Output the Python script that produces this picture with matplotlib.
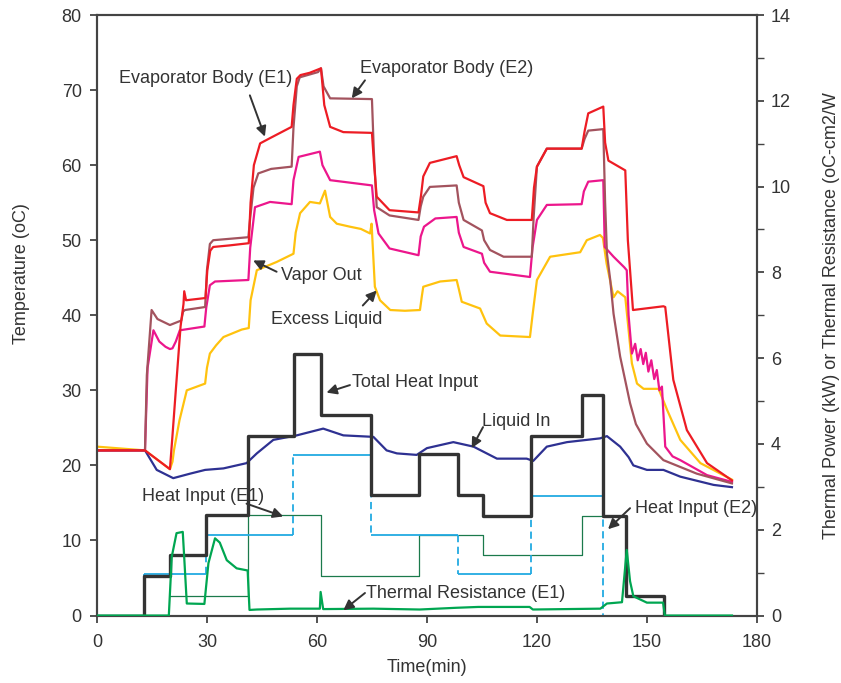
import matplotlib.pyplot as plt
import numpy as np

plt.rcParams['font.family'] = ['Liberation Sans', 'DejaVu Sans']

# ---- temperature curves (time in min, temperature in oC) ----
e1_t = [0, 13.1, 19.9, 20.6, 21.5, 22.8, 23.6, 23.8, 24.3, 29.6, 30.1, 30.9, 31.7, 36, 41.4,
        41.9, 42.8, 44.5, 47.2, 53.1, 53.6, 54.5, 55.5, 58, 61.1, 62.0, 63.6, 67.2, 75.0,
        75.6, 76.3, 79.8, 87.7, 88.4, 89.0, 90.8, 98.1, 98.8, 100.0, 105.4, 106.0, 107.2,
        111.8, 118.6, 119.2, 120, 122.7, 132.2, 133, 134, 138.1, 138.6, 139.5, 144.1, 144.8,
        146.2, 154.5, 155, 157.2, 160.9, 166.4, 173.2]
e1_T = [22, 22, 19.5, 24, 30, 38.5, 41.5, 43.2, 42.0, 42.3, 46, 48.6, 49.1, 49.3, 49.6,
        55, 60, 62.9, 63.6, 65.1, 68, 71.5, 72, 72.3, 72.9, 68, 65.1, 64.4, 64.3,
        60, 55.8, 54, 53.7, 56, 58.5, 60.3, 61.2, 60, 58.4, 57.2, 55, 53.6,
        52.7, 52.7, 57, 59.8, 62.2, 62.2, 64.5, 66.9, 67.8, 63, 60.6, 59.3, 50,
        40.7, 41.2, 41.1, 31.4, 24.7, 20.3, 18.0]

e2_t = [0, 13.1, 13.6, 14.9, 16.5, 19.9, 23.0, 23.5, 24.0, 29.5, 30.0, 30.8, 31.7, 41.3,
        41.8, 42.7, 44.0, 47.5, 53.1, 53.6, 54.5, 55.3, 60.3, 61.1, 61.8, 63.6, 75.0, 75.5,
        76.3, 79.8, 87.7, 88.3, 89.0, 90.8, 98.1, 98.7, 100.0, 105.0, 105.6, 107.2, 110.9,
        118.6, 119.1, 120.0, 122.7, 132.2, 133, 134, 138.1, 138.6, 139.1, 140.0, 140.9,
        142.7, 145.4, 147, 150, 154.5, 163.6, 173.2]
e2_T = [22, 22, 32, 40.7, 39.5, 38.7, 39.3, 40.5, 40.7, 41.1, 46, 49.5, 50, 50.4,
        53, 57, 58.9, 59.5, 59.8, 65, 70.5, 71.7, 72.4, 72.9, 70.5, 68.9, 68.8, 62,
        54.4, 53.3, 52.7, 54.5, 55.8, 57.1, 57.3, 55, 52.7, 51.3, 50, 48.7, 47.8,
        47.8, 53, 59.8, 62.2, 62.2, 63.5, 64.6, 64.8, 55, 48.2, 44.7, 40.2,
        34.5, 28.3, 25.5, 22.9, 20.7, 18.9, 17.6]

vap_t = [0, 13.1, 13.8, 15.4, 17, 18.7, 19.9, 20.6, 21.5, 22.6, 29.3, 29.8, 30.8, 32.2,
         41.3, 41.8, 43.1, 47.2, 53.1, 53.6, 55.0, 60.8, 61.5, 63.6, 75.0, 75.6, 76.8,
         79.8, 87.7, 88.3, 89.2, 92.3, 98.1, 98.7, 100, 105, 105.6, 107.2, 118.1, 118.8,
         120, 122.7, 132.2, 132.8, 134, 138.1, 138.5, 140.9, 143.8, 144.5, 145.0, 145.9,
         146.8, 147.5, 148.3, 149, 149.7, 150.4, 151.2, 152, 152.7, 153.4, 154.1, 154.6,
         155, 157, 159.1, 166.4, 173.2]
vap_T = [22, 22, 33, 38.0, 36.5, 35.8, 35.5, 35.6, 36.5, 38.0, 38.5, 41, 44, 44.5,
         44.7, 49, 54.4, 55.1, 54.8, 58, 61.1, 61.8, 60, 58.0, 57.3, 54, 50.9,
         48.9, 48, 50.5, 51.8, 52.9, 53.1, 51, 49.1, 48.2, 47, 45.8, 45.1, 49,
         52.7, 54.7, 54.8, 56.5, 57.8, 58.0, 49.1, 47.8, 46.4, 46, 40, 34.9,
         36.2, 34, 35.5, 33.5, 35, 32.5, 34, 31.5, 32.7, 30, 30.5, 26,
         22.5, 21.2, 20.7, 18.7, 17.8]

liq_t = [0, 13.1, 19.9, 20.6, 21.0, 22.5, 24.5, 29.5, 30.0, 30.8, 32.5, 34.5, 39.5, 41.4,
         41.9, 43.6, 49, 53.6, 54.2, 55.4, 58.1, 60.8, 62.2, 63.6, 65.4, 69, 72, 74.5,
         74.9, 75.8, 77.2, 80, 84, 88.1, 88.6, 89.0, 93.6, 98.1, 98.7, 99.5, 104.5, 106.3,
         110, 118.1, 118.8, 120, 123.6, 131.8, 133.6, 137.2, 138, 139, 140.9, 142, 144.1,
         144.6, 145.9, 147.3, 149.1, 153.2, 155.5, 159.1, 164.6, 173.2]
liq_T = [22.5, 22, 19.5, 20.5, 22, 26, 30.0, 30.9, 33, 34.9, 36, 37.1, 38.1, 38.3,
         42, 46.0, 47.1, 48.2, 51, 53.6, 55.1, 54.9, 56.6, 53.1, 52.2, 51.8, 51.5, 50.9,
         52.2, 43.8, 42.0, 40.7, 40.6, 40.7, 42.5, 43.8, 44.5, 44.7, 43.5, 41.8, 40.9, 38.9,
         37.3, 37.1, 40, 44.7, 47.8, 48.4, 50.0, 50.7, 50.3, 46.9, 42.4, 43.2, 42.4,
         40, 33.6, 30.9, 30.2, 30.2, 27.4, 23.4, 20.3, 18.1]

in_t = [0, 13.1, 16.3, 20.8, 25.4, 29.5, 34.5, 40.8, 43.6, 48.1, 54.5, 61.7, 67.2, 75.4,
        79, 81.8, 87.2, 90, 97.2, 102.7, 109.1, 117.2, 119, 122.7, 128.2, 137.2, 139.1,
        142.7, 145, 146.3, 150, 154.5, 159.1, 168.2, 173.2]
in_T = [22, 22, 19.4, 18.3, 18.9, 19.4, 19.6, 20.3, 21.6, 23.4, 24.0, 24.9, 24.0, 23.8,
        22.0, 21.6, 21.4, 22.3, 23.1, 22.5, 20.9, 20.9, 20.6, 22.5, 23.1, 23.6, 23.9,
        22.5, 21.1, 20.0, 19.4, 19.4, 18.5, 17.4, 17.1]

# ---- power steps (kW) and thermal resistance, right axis ----
tot_t = [0, 12.9, 19.9, 29.7, 41.3, 53.7, 61.1, 74.7, 87.9, 98.4, 105.3, 118.5, 132.2,
         137.9, 144.2, 154.6]
tot_p = [0, 0.93, 1.42, 2.35, 4.18, 6.1, 4.67, 2.8, 3.76, 2.8, 2.32, 4.18, 5.14, 2.32, 0.45, 0]

h1_t = [19.9, 41.3, 61.1, 87.9, 105.3, 132.2, 144.2, 154.6]
h1_p = [0.45, 2.34, 0.93, 1.885, 1.42, 2.32, 0.45, 0]

h2_t = [0, 12.9, 29.7, 53.5, 74.7, 98.4, 118.5, 137.9, 154.6]
h2_p = [0, 0.97, 1.885, 3.74, 1.885, 0.97, 2.79, 0]

tr_t = [0, 19.6, 20.4, 21.7, 23.4, 23.9, 24.5, 29.3, 30.4, 32.2, 33.5, 35.4, 38.1, 41.1,
        41.6, 43.6, 52.7, 60.8, 61.0, 61.7, 75.4, 88, 97.9, 104, 118, 118.9, 137.3, 139.1,
        143.2, 144.5, 145.4, 146.3, 150, 154.4, 154.9, 173.2]
tr_r = [0, 0, 1.37, 1.92, 1.95, 1.2, 0.28, 0.27, 1.22, 1.8, 1.7, 1.29, 1.1, 1.05,
        0.13, 0.14, 0.16, 0.16, 0.55, 0.15, 0.16, 0.14, 0.18, 0.2, 0.2, 0.14, 0.16, 0.28,
        0.31, 1.53, 0.8, 0.45, 0.3, 0.3, 0, 0]

fig = plt.figure(figsize=(8.41, 6.83), dpi=100)
ax = fig.add_axes([0.1153, 0.0988, 0.7847, 0.8792])
ax2 = ax.twinx()

ax.plot(liq_t, liq_T, color='#ffc20e', lw=1.6)
ax.plot(in_t, in_T, color='#2e3192', lw=1.6)
ax.plot(vap_t, vap_T, color='#ec168c', lw=1.6)
ax.plot(e2_t, e2_T, color='#a3535e', lw=1.6)
ax.plot(e1_t, e1_T, color='#ed1c24', lw=1.6)

ax2.plot(tr_t, tr_r, color='#00a651', lw=1.6, zorder=3)
ax2.step(h1_t + [154.6], h1_p + [0], where='post', color='#1b7a4c', lw=0.9, zorder=2)
# Heat input E2: solid levels, dashed risers
ax2.hlines(h2_p, h2_t[:-1], h2_t[1:], color='#22aae2', lw=1.3, zorder=2)
ax2.vlines(h2_t[1:-1], h2_p[:-1], h2_p[1:], color='#22aae2', lw=1.3,
           linestyles=(0, (4, 2.5)), zorder=2)
ax2.step(tot_t + [154.6], tot_p + [0], where='post', color='#333333', lw=2.4, zorder=2.5)

ax.set_xlim(0, 180)
ax.set_ylim(0, 80)
ax2.set_ylim(0, 14)
ax.set_xticks(np.arange(0, 181, 30))
ax.set_yticks(np.arange(0, 81, 10))
ax2.set_yticks(np.arange(0, 15, 2))
ax2.set_yticks(np.arange(1, 14, 2), minor=True)

for a in (ax, ax2):
    for s in a.spines.values():
        s.set_color('#444444')
        s.set_linewidth(1.5)
    a.tick_params(direction='out', length=5, width=1.3, color='#444444',
                  labelsize=13, labelcolor='#333333')
ax.tick_params(axis='x', pad=8)
ax.tick_params(axis='y', pad=6)
ax2.tick_params(axis='y', pad=5)
ax2.tick_params(which='minor', direction='out', length=5, width=1.0, color='#444444')

ax.set_xlabel('Time(min)', fontsize=13, color='#333333', labelpad=6)
ax.set_ylabel('Temperature (oC)', fontsize=13, color='#333333')
ax.yaxis.set_label_coords(-0.102, 0.57)
ax2.set_ylabel('Thermal Power (kW) or Thermal Resistance (oC-cm2/W', fontsize=13,
               color='#333333', labelpad=23)

# labels with arrows (left-axis data coords)
notes = [
    ('Evaporator Body (E1)', (29.7, 71.6), (41.7, 69.3), (45.8, 63.8)),
    ('Evaporator Body (E2)', (95.4, 72.9), (73.1, 71.3), (69.5, 68.9)),
    ('Vapor Out', (61.1, 45.3), (49.0, 45.8), (42.6, 47.3)),
    ('Excess Liquid', (62.7, 39.5), (72.5, 41.3), (76.3, 43.3)),
    ('Total Heat Input', (86.7, 31.0), (69.0, 30.7), (62.6, 29.7)),
    ('Liquid In', (114.3, 25.8), (105.3, 25.1), (102.2, 22.3)),
    ('Heat Input (E1)', (28.9, 15.8), (40.8, 14.9), (50.8, 13.2)),
    ('Heat Input (E2)', (163.3, 14.3), (145.4, 14.3), (139.4, 11.5)),
    ('Thermal Resistance (E1)', (100.6, 2.9), (73.1, 3.0), (67.2, 0.7)),
]
for label, pos, tail, tip in notes:
    ax2.text(pos[0], pos[1] * 14 / 80, label, fontsize=13, color='#333333',
             ha='center', va='center', zorder=5)
    ax2.annotate('', xy=(tip[0], tip[1] * 14 / 80), xytext=(tail[0], tail[1] * 14 / 80),
                 arrowprops=dict(arrowstyle='-|>', color='#333333', lw=1.4,
                                 mutation_scale=15, shrinkA=0, shrinkB=0), zorder=5)

fig.savefig('out.png', dpi=100)
